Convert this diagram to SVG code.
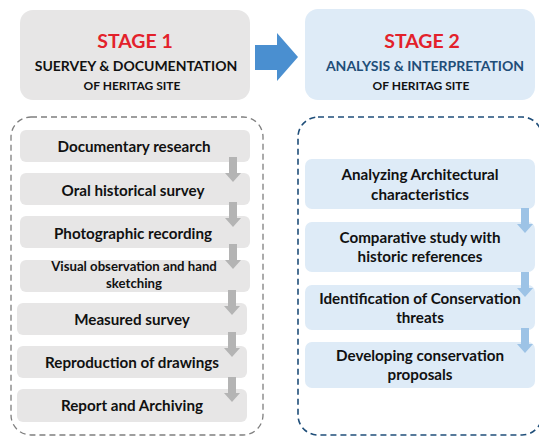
<svg xmlns="http://www.w3.org/2000/svg" width="539" height="439" viewBox="0 0 539 439">
  <style>
    text { font-family: Lato, "Liberation Sans", sans-serif; font-weight: bold; text-anchor: middle; }
    .head { fill: #e3212b; font-size: 19.5px; }
    .sub1 { fill: #111; font-size: 14px; }
    .sub2 { fill: #1f4e79; font-size: 14px; }
    .sub3 { font-size: 12px; }
    .step { fill: #111; font-size: 15.2px; }
    .small { fill: #111; font-size: 13.2px; }
    .gbox { fill: #e7e6e6; }
    .bbox { fill: #deebf7; }
    .garrow { fill: #b4b4b4; }
    .barrow { fill: #9dc3e6; }
  </style>
  <defs>
    <!-- downward step arrow: 8px shaft, 16px head, 25px long -->
    <path id="down" d="M-4 0 H4 V16 H8 L0 25 L-8 16 H-4 Z"/>
  </defs>

  <!-- stage headers -->
  <g id="stage1">
    <rect x="20" y="10" width="230" height="90" rx="13" fill="#e7e6e6"/>
    <text class="head" x="135" y="48">STAGE 1</text>
    <text class="sub1" x="136" y="71">SUERVEY &amp; DOCUMENTATION</text>
    <text class="sub1 sub3" x="132" y="90">OF HERITAG SITE</text>
  </g>
  <g id="stage2">
    <rect x="305" y="9" width="230" height="91" rx="13" fill="#deebf7"/>
    <text class="head" x="422" y="48">STAGE 2</text>
    <text class="sub2" x="425" y="71">ANALYSIS &amp; INTERPRETATION</text>
    <text class="sub1 sub3" x="421" y="90">OF HERITAG SITE</text>
  </g>

  <!-- dashed containers -->
  <g id="survey-frame">
    <rect x="11" y="117" width="252" height="318" rx="20" fill="none" stroke="#7f7f7f" stroke-width="1.3" stroke-dasharray="6 4"/>
  </g>
  <g id="analysis-frame">
    <rect x="298" y="117" width="244" height="318" rx="20" fill="none" stroke="#1f4e79" stroke-width="1.6" stroke-dasharray="6 4"/>
  </g>

  <!-- stage 1 steps -->
  <g id="s1-documentary">
    <rect class="gbox" x="20" y="130" width="230" height="32" rx="6"/>
    <text class="step" x="134" y="152">Documentary research</text>
  </g>
  <g id="s1-oral">
    <rect class="gbox" x="20" y="173" width="230" height="32" rx="6"/>
    <text class="step" x="133" y="196">Oral historical survey</text>
  </g>
  <g id="s1-photo">
    <rect class="gbox" x="20" y="216" width="230" height="32" rx="6"/>
    <text class="step" x="133" y="239">Photographic recording</text>
  </g>
  <g id="s1-visual">
    <rect class="gbox" x="20" y="260" width="230" height="32" rx="6"/>
    <text class="small" x="134" y="271">Visual observation and hand</text>
    <text class="small" x="134" y="288">sketching</text>
  </g>
  <g id="s1-measured">
    <rect class="gbox" x="17" y="303" width="230" height="32" rx="6"/>
    <text class="step" x="132" y="325">Measured survey</text>
  </g>
  <g id="s1-reproduction">
    <rect class="gbox" x="17" y="346" width="230" height="32" rx="6"/>
    <text class="step" x="132" y="368">Reproduction of drawings</text>
  </g>
  <g id="s1-report">
    <rect class="gbox" x="17" y="389" width="230" height="33" rx="6"/>
    <text class="step" x="132" y="411">Report and Archiving</text>
  </g>

  <!-- stage 2 steps -->
  <g id="s2-analyzing">
    <rect class="bbox" x="305" y="159" width="230" height="50" rx="7"/>
    <text class="step" x="420" y="180">Analyzing Architectural</text>
    <text class="step" x="420" y="200">characteristics</text>
  </g>
  <g id="s2-comparative">
    <rect class="bbox" x="305" y="222" width="230" height="50" rx="7"/>
    <text class="step" x="420" y="243">Comparative study with</text>
    <text class="step" x="420" y="262">historic references</text>
  </g>
  <g id="s2-threats">
    <rect class="bbox" x="305" y="285" width="230" height="45" rx="7"/>
    <text class="step" x="420" y="304">Identification of Conservation</text>
    <text class="step" x="420" y="323">threats</text>
  </g>
  <g id="s2-proposals">
    <rect class="bbox" x="305" y="342" width="230" height="46" rx="7"/>
    <text class="step" x="420" y="361">Developing conservation</text>
    <text class="step" x="420" y="380">proposals</text>
  </g>

  <!-- connectors -->
  <g id="connectors">
    <path d="M255 45 H277 V33 L298 57 L277 81 V70 H255 Z" fill="#4a8fd0"/>
    <use href="#down" class="garrow" x="233" y="157"/>
    <use href="#down" class="garrow" x="233" y="202"/>
    <use href="#down" class="garrow" x="233" y="244"/>
    <use href="#down" class="garrow" x="232" y="290"/>
    <use href="#down" class="garrow" x="232" y="332"/>
    <use href="#down" class="garrow" x="232" y="377"/>
    <use href="#down" class="barrow" x="525" y="208"/>
    <use href="#down" class="barrow" x="525" y="272"/>
    <use href="#down" class="barrow" x="525" y="328"/>
  </g>
</svg>
